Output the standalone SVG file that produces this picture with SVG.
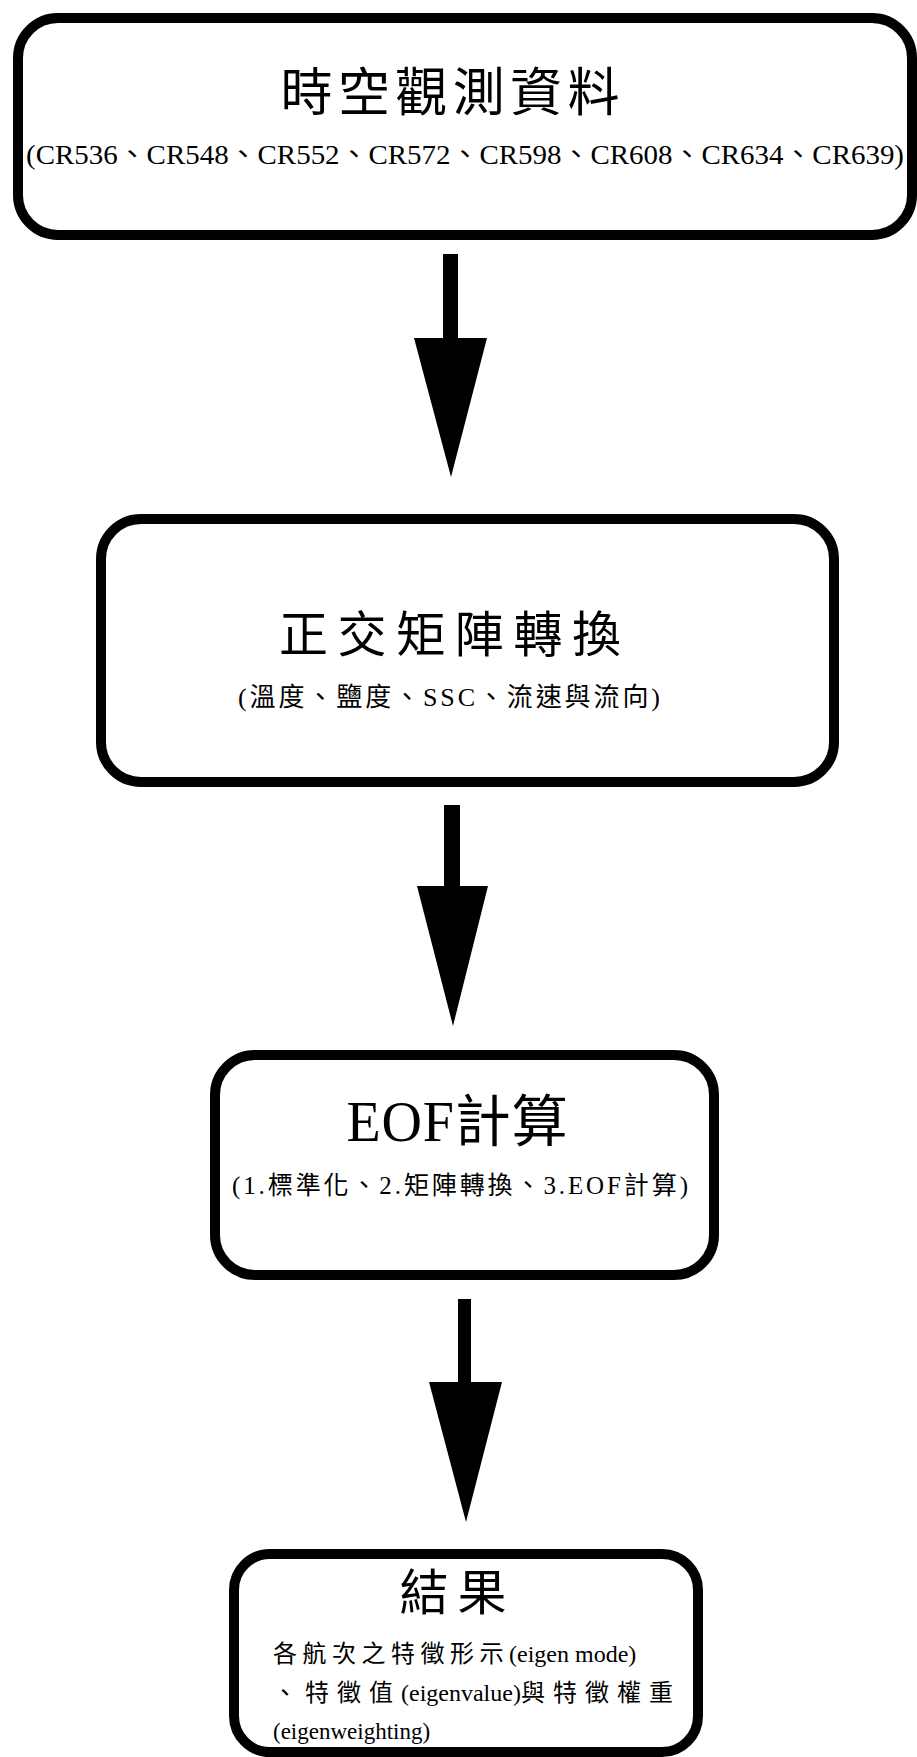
<svg xmlns="http://www.w3.org/2000/svg" width="917" height="1757" viewBox="0 0 917 1757">
<style>
.box{fill:#fff;stroke:#000;stroke-width:10}
.t{font-family:"Liberation Serif","Noto Sans CJK TC",serif;fill:#000}
.arr{fill:#000}
</style>
<rect width="917" height="1757" fill="#fff"/>
<g id="connectors">
<path class="arr" d="M443,254 H458 V338 H487 L451,477 L414,338 H443 Z"/>
<path class="arr" d="M444,805 H460 V886 H488 L453,1026 L417,886 H444 Z"/>
<path class="arr" d="M458,1299 H471 V1382 H502 L466,1522 L429,1382 H458 Z"/>
</g>
<g id="node1">
<rect class="box" x="18" y="18" width="894" height="217" rx="40" ry="40"/>
<text class="t" x="450" y="111" font-size="52" text-anchor="middle" textLength="339" lengthAdjust="spacing">時空觀測資料</text>
<text class="t" x="465" y="164" font-size="27" text-anchor="middle" textLength="878" lengthAdjust="spacingAndGlyphs">(CR536、CR548、CR552、CR572、CR598、CR608、CR634、CR639)</text>
</g>
<g id="node2">
<rect class="box" x="101" y="519" width="733" height="263" rx="40" ry="40"/>
<text class="t" x="450" y="652" font-size="49" text-anchor="middle" textLength="342" lengthAdjust="spacing">正交矩陣轉換</text>
<text class="t" x="449" y="706" font-size="26" text-anchor="middle" textLength="422" lengthAdjust="spacing">(溫度、鹽度、SSC、流速與流向)</text>
</g>
<g id="node3">
<rect class="box" x="215" y="1055" width="499" height="220" rx="40" ry="40"/>
<text class="t" x="457" y="1141" font-size="56" text-anchor="middle" textLength="221" lengthAdjust="spacing">EOF計算</text>
<text class="t" x="460" y="1194" font-size="25" text-anchor="middle" textLength="456" lengthAdjust="spacing">(1.標準化、2.矩陣轉換、3.EOF計算)</text>
</g>
<g id="node4">
<rect class="box" x="234" y="1554" width="464" height="198" rx="36" ry="36"/>
<text class="t" x="453" y="1610" font-size="49" text-anchor="middle" textLength="107" lengthAdjust="spacing">結果</text>
<text class="t" x="273" y="1662" font-size="24"><tspan letter-spacing="5.5">各航次之特徵形示</tspan><tspan>(eigen mode)</tspan></text>
<text class="t" x="273" y="1701" font-size="24"><tspan letter-spacing="8">、特徵值</tspan><tspan>(eigenvalue)</tspan><tspan letter-spacing="8">與特徵權重</tspan></text>
<text class="t" x="273" y="1739" font-size="23">(eigenweighting)</text>
</g>
</svg>
